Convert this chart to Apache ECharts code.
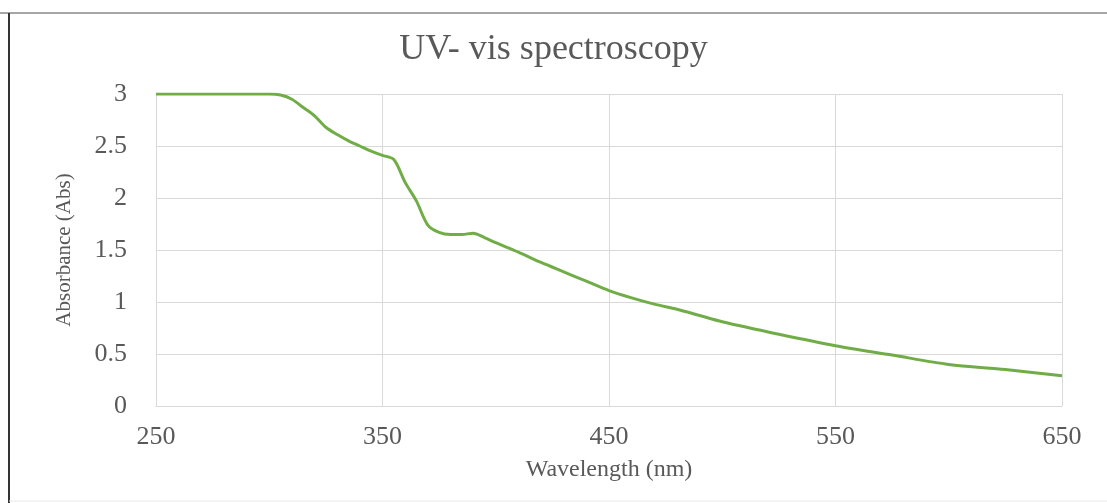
<!DOCTYPE html>
<html>
<head>
<meta charset="utf-8">
<script src="https://cdn.jsdelivr.net/npm/echarts@6/dist/echarts.min.js"></script>
<style>html,body{margin:0;padding:0;background:#fff;}#c{width:1107px;height:503px;}</style>
</head>
<body>
<div id="c"></div>
<script>
const wavelengths = [250, 300, 305, 310, 315, 320, 325, 330, 335, 340, 345, 350, 355, 360, 365, 370, 375, 380, 385, 390, 395, 400, 410, 420, 430, 440, 450, 460, 470, 480, 490, 500, 525, 550, 575, 600, 625, 650];
const absorbance = [3.0, 3.0, 2.99, 2.95, 2.87, 2.79, 2.68, 2.61, 2.55, 2.50, 2.45, 2.41, 2.37, 2.15, 1.97, 1.74, 1.67, 1.65, 1.65, 1.66, 1.62, 1.57, 1.48, 1.38, 1.29, 1.20, 1.11, 1.04, 0.98, 0.93, 0.87, 0.81, 0.69, 0.58, 0.49, 0.40, 0.35, 0.29];
const xTicks = [250, 350, 450, 550, 650];
const yTicks = [0, 0.5, 1, 1.5, 2, 2.5, 3];

const chart = echarts.init(document.getElementById('c'));
const serif = '"Liberation Serif", "DejaVu Serif", serif';
chart.setOption({
  animation: false,
  backgroundColor: '#fff',
  title: {
    text: 'UV- vis spectroscopy',
    left: 'center',
    top: 27,
    textStyle: {fontFamily: serif, fontSize: 36, fontWeight: 'normal', color: '#595959'}
  },
  grid: {left: 156, right: 45, top: 94, bottom: 97},
  graphic: [
    {type: 'line', shape: {x1: 0, y1: 13, x2: 1107, y2: 13}, style: {stroke: '#a6a6a6', lineWidth: 2}},
    {type: 'line', shape: {x1: 9, y1: 13, x2: 9, y2: 503}, style: {stroke: '#333', lineWidth: 2}},
    {type: 'line', shape: {x1: 9, y1: 501, x2: 1107, y2: 501}, style: {stroke: '#e8e8e8', lineWidth: 1}}
  ],
  xAxis: {
    type: 'value',
    min: xTicks[0], max: xTicks[xTicks.length - 1], interval: 100,
    name: 'Wavelength (nm)',
    nameLocation: 'middle', nameGap: 52,
    nameTextStyle: {fontFamily: serif, fontSize: 24, color: '#595959'},
    axisLine: {show: true, lineStyle: {color: '#d9d9d9', width: 1}},
    axisTick: {show: false},
    axisLabel: {fontFamily: serif, fontSize: 26, color: '#595959', margin: 18,
      customValues: xTicks},
    splitLine: {show: true, lineStyle: {color: '#d9d9d9', width: 1}}
  },
  yAxis: {
    type: 'value',
    min: 0, max: 3, interval: 0.5,
    name: 'Absorbance (Abs)',
    nameLocation: 'middle', nameGap: 81,
    nameTextStyle: {fontFamily: serif, fontSize: 21, color: '#595959'},
    axisLine: {show: true, lineStyle: {color: '#d9d9d9', width: 1}},
    axisTick: {show: false},
    axisLabel: {fontFamily: serif, fontSize: 26, color: '#595959', margin: 29,
      customValues: yTicks},
    splitLine: {show: true, lineStyle: {color: '#d9d9d9', width: 1}}
  },
  series: [{
    type: 'line',
    data: wavelengths.map((w, i) => [w, absorbance[i]]),
    showSymbol: false,
    smooth: 0.3,
    lineStyle: {color: '#70ad47', width: 3},
    z: 3
  }]
});
</script>
</body>
</html>
